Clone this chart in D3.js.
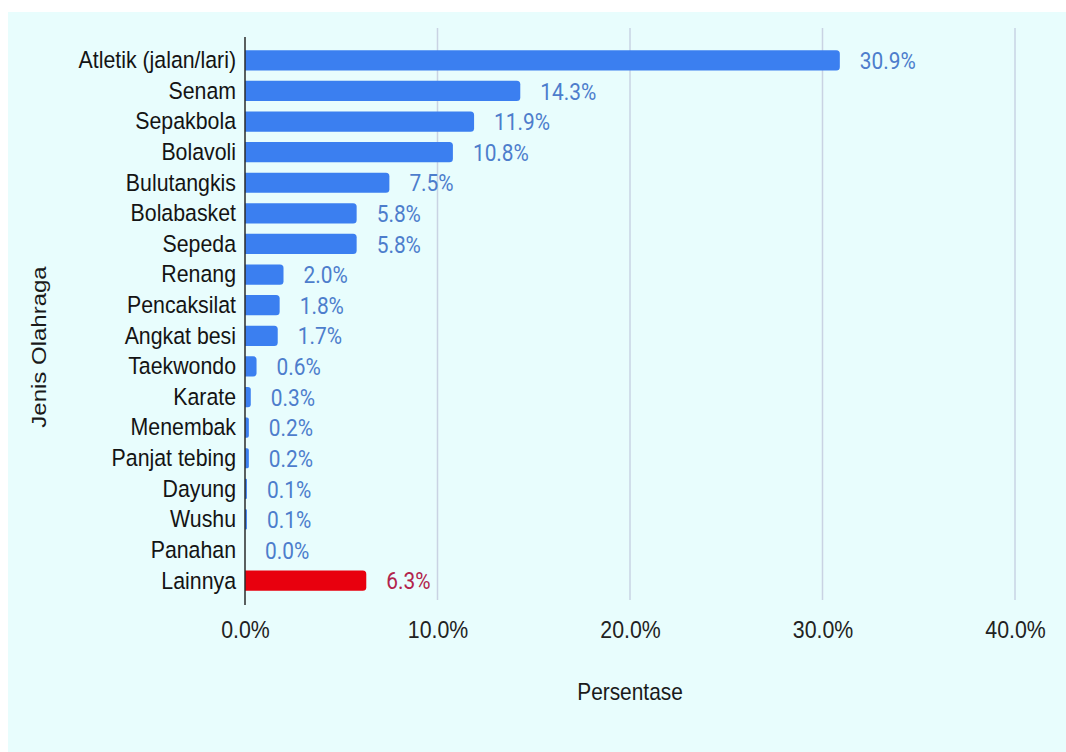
<!DOCTYPE html>
<html>
<head>
<meta charset="utf-8">
<script src="https://cdn.jsdelivr.net/npm/d3@7"></script>
<style>
  html, body { margin: 0; padding: 0; background: #ffffff; }
  svg { display: block; }
</style>
</head>
<body>
<svg id="chart" width="1066" height="752"></svg>
<script>
// Sports categories and their share (%)
const categories = [
  "Atletik (jalan/lari)", "Senam", "Sepakbola", "Bolavoli", "Bulutangkis",
  "Bolabasket", "Sepeda", "Renang", "Pencaksilat", "Angkat besi",
  "Taekwondo", "Karate", "Menembak", "Panjat tebing", "Dayung",
  "Wushu", "Panahan", "Lainnya"
];
const values = [30.9, 14.3, 11.9, 10.8, 7.5, 5.8, 5.8, 2.0, 1.8, 1.7, 0.6, 0.3, 0.2, 0.2, 0.1, 0.1, 0.0, 6.3];
const xTicks = [0, 10, 20, 30, 40];
const highlight = "Lainnya";

const data = categories.map((c, i) => ({ name: c, value: values[i] }));

// narrow text rendering
const SQ = 0.87;

const svg = d3.select("#chart");

// panel background
svg.append("rect")
  .attr("x", 8).attr("y", 12)
  .attr("width", 1058).attr("height", 740)
  .attr("fill", "#e8fdfd");

const x = d3.scaleLinear().domain([0, 40]).range([245, 1015]);
const y = d3.scaleBand().domain(categories).range([45, 596]).paddingInner(0.34).paddingOuter(0.17);

// vertical grid lines
svg.append("g")
  .selectAll("line")
  .data(xTicks.filter(t => t > 0))
  .join("line")
  .attr("x1", d => x(d)).attr("x2", d => x(d))
  .attr("y1", 28).attr("y2", 600)
  .attr("stroke", "#c9d3e3")
  .attr("stroke-width", 1.5);

// x-axis tick labels
const xAxis = d3.axisBottom(x)
  .tickValues(xTicks)
  .tickSize(0)
  .tickPadding(0)
  .tickFormat(d => d.toFixed(1) + "%");
const gx = svg.append("g").attr("transform", "translate(0,621)").call(xAxis);
gx.select(".domain").remove();
gx.selectAll("text")
  .attr("font-family", "Liberation Sans, Arial, sans-serif")
  .attr("font-size", 24.5)
  .attr("fill", "#222222")
  .attr("dy", "0.71em")
  .attr("transform", `scale(${SQ},1)`);

// bars with rounded right end
function barPath(x0, y0, w, h, r) {
  const rr = Math.min(r, w / 2, h / 2);
  return `M${x0},${y0}H${x0 + w - rr}Q${x0 + w},${y0} ${x0 + w},${y0 + rr}` +
         `V${y0 + h - rr}Q${x0 + w},${y0 + h} ${x0 + w - rr},${y0 + h}H${x0}Z`;
}

svg.append("g")
  .selectAll("path")
  .data(data.filter(d => d.value > 0))
  .join("path")
  .attr("d", d => barPath(x(0), y(d.name), x(d.value) - x(0), y.bandwidth(), 3.5))
  .attr("fill", d => d.name === highlight ? "#e8000e" : "#3b7ff0");

// zero axis line
svg.append("line")
  .attr("x1", x(0)).attr("x2", x(0))
  .attr("y1", 37).attr("y2", 605)
  .attr("stroke", "#2a2a2a")
  .attr("stroke-width", 1.5);

// category labels
const yAxis = d3.axisLeft(y).tickSize(0).tickPadding(9 / SQ);
const gy = svg.append("g").attr("transform", `translate(${x(0)},0)`).call(yAxis);
gy.select(".domain").remove();
gy.selectAll("text")
  .attr("font-family", "Liberation Sans, Arial, sans-serif")
  .attr("font-size", 24.5)
  .attr("fill", "#141414")
  .attr("transform", `scale(${SQ},1)`);

// value labels
svg.append("g")
  .selectAll("text")
  .data(data)
  .join("text")
  .attr("transform", d => `translate(${x(d.value) + 20},${y(d.name) + y.bandwidth() / 2}) scale(${SQ},1)`)
  .attr("dy", "0.36em")
  .attr("font-family", "Roboto, sans-serif")
  .attr("font-size", 24)
  .attr("fill", d => d.name === highlight ? "#b2244c" : "#4d7dcc")
  .text(d => d.value.toFixed(1) + "%");

// axis titles
svg.append("text")
  .attr("transform", `translate(630,700) scale(${SQ},1)`)
  .attr("text-anchor", "middle")
  .attr("font-family", "Liberation Sans, Arial, sans-serif")
  .attr("font-size", 24)
  .attr("fill", "#1a1a1a")
  .text("Persentase");

svg.append("text")
  .attr("transform", `translate(46,347) scale(${SQ},1) rotate(-90)`)
  .attr("text-anchor", "middle")
  .attr("font-family", "Liberation Sans, Arial, sans-serif")
  .attr("font-size", 24)
  .attr("fill", "#1a1a1a")
  .text("Jenis Olahraga");
</script>
</body>
</html>
